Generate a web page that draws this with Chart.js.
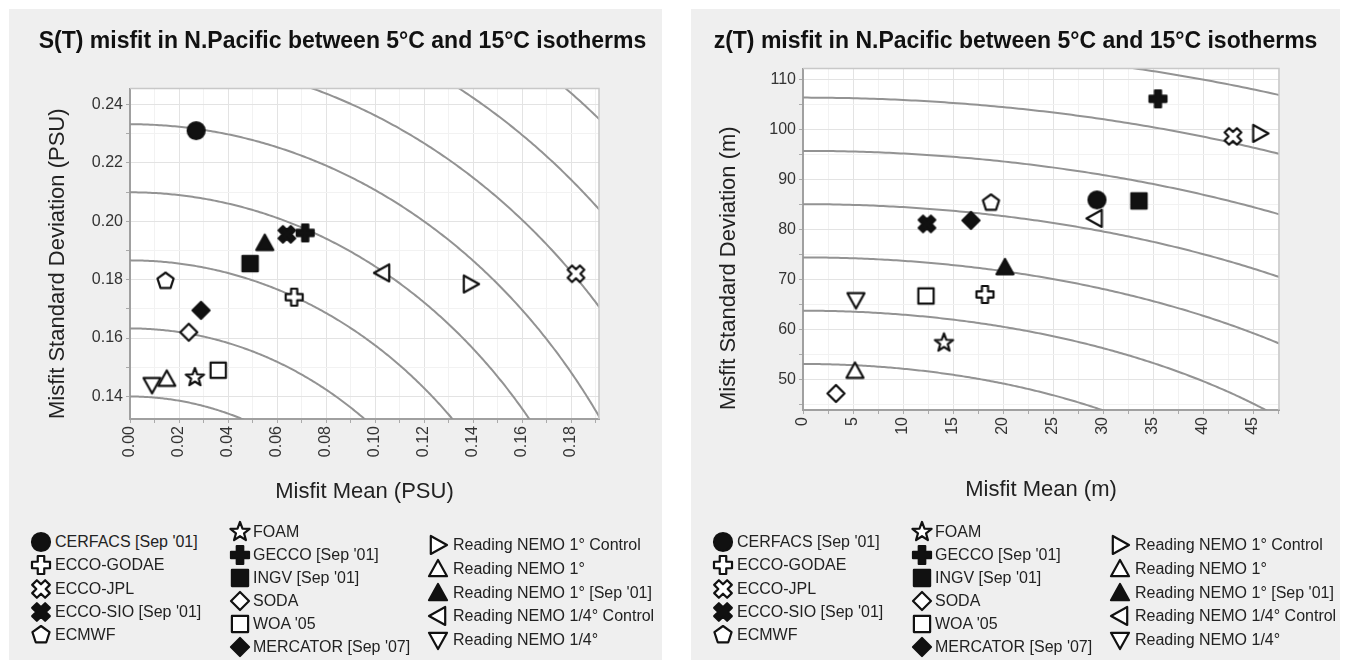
<!DOCTYPE html>
<html>
<head>
<meta charset="utf-8">
<title>Misfit in N.Pacific between 5°C and 15°C isotherms</title>
<script src="https://cdn.jsdelivr.net/npm/chart.js@4"></script>
<style>
  body { margin: 0; background: #fff; font-family: 'Liberation Sans', Arial, sans-serif; }
  .panel { position: absolute; top: 9px; height: 651px; background: #efefef; }
  #panelS { left: 9px; width: 653px; }
  #panelZ { left: 691px; width: 649px; }
  .panel > canvas { position: absolute; left: 0; top: 0; }
  .icon { position: absolute; }
  .label { position: absolute; height: 20px; line-height: 20px; font-size: 16px; color: #222; white-space: nowrap; }
</style>
</head>
<body>
<div class="panel" id="panelS"><canvas id="chartS" width="653" height="520"></canvas></div>
<div class="panel" id="panelZ"><canvas id="chartZ" width="649" height="520"></canvas></div>
<script>
// models, in legend order (3 columns: 5 / 6 / 5)
const models = ["CERFACS [Sep '01]", 'ECCO-GODAE', 'ECCO-JPL', "ECCO-SIO [Sep '01]", 'ECMWF',
  'FOAM', "GECCO [Sep '01]", "INGV [Sep '01]", 'SODA', "WOA '05", "MERCATOR [Sep '07]",
  'Reading NEMO 1° Control', 'Reading NEMO 1°', "Reading NEMO 1° [Sep '01]", 'Reading NEMO 1/4° Control', 'Reading NEMO 1/4°']

// S(T) misfit (PSU)
const stMean = [0.027, 0.067, 0.182, 0.064, 0.0145, 0.0265, 0.0715, 0.049, 0.024, 0.036, 0.029, 0.139, 0.015, 0.055, 0.103, 0.009]
const stStd = [0.231, 0.174, 0.182, 0.1955, 0.1795, 0.1465, 0.196, 0.1855, 0.162, 0.149, 0.1695, 0.1785, 0.146, 0.1925, 0.1823, 0.144]

// z(T) misfit (m)
const ztMean = [29.4, 18.2, 43.0, 12.4, 18.8, 14.1, 35.5, 33.6, 3.3, 12.3, 16.8, 45.7, 5.2, 20.2, 29.2, 5.3]
const ztStd = [86.0, 67.1, 98.7, 81.2, 85.4, 57.4, 106.2, 85.8, 47.3, 66.8, 81.9, 99.3, 51.8, 72.5, 82.3, 66.0]

// radii of the constant total-misfit circles sqrt(mean^2 + std^2)
const stRings = [0.140, 0.1633, 0.1866, 0.2099, 0.2332, 0.2565, 0.2798, 0.3031]
const ztRings = [53.2, 63.85, 74.5, 85.15, 95.8, 106.45, 117.1]

// marker style per model
const markerShapes = ['circle', 'plus', 'xcross', 'xcross', 'pentagon', 'star', 'plus', 'square', 'diamond', 'square', 'diamond',
  'tri-right', 'tri-up', 'tri-up', 'tri-left', 'tri-down']
const markerFilled = [true, false, false, true, false, false, true, true, false, false, true, false, false, true, false, false]

Chart.defaults.font.family = "'Liberation Sans', Arial, sans-serif"

function shapePoints(shape) {
  const a = 0.36
  const plus = [[-a, -1], [a, -1], [a, -a], [1, -a], [1, a], [a, a], [a, 1], [-a, 1], [-a, a], [-1, a], [-1, -a], [-a, -a]]
  const star = (n, r0, r1) => {
    const pts = []
    for (let k = 0; k < n * 2; k++) {
      const r = k % 2 ? r1 : r0
      const ang = -Math.PI / 2 + k * Math.PI / n
      pts.push([r * Math.cos(ang), r * Math.sin(ang)])
    }
    return pts
  }
  switch (shape) {
    case 'plus': return plus
    case 'xcross': return plus.map(([x, y]) => [(x - y) * 0.72, (x + y) * 0.72])
    case 'square': return [[-0.9, -0.9], [0.9, -0.9], [0.9, 0.9], [-0.9, 0.9]]
    case 'diamond': return [[0, -1], [1, 0], [0, 1], [-1, 0]]
    case 'pentagon': return star(5, 1, 1).filter((p, i) => i % 2 === 0)
    case 'star': return star(5, 1.12, 0.47)
    case 'tri-up': return [[0, -1], [1, 0.8], [-1, 0.8]]
    case 'tri-down': return [[0, 1], [1, -0.8], [-1, -0.8]]
    case 'tri-left': return [[-1, 0], [0.8, -1], [0.8, 1]]
    case 'tri-right': return [[1, 0], [-0.8, -1], [-0.8, 1]]
  }
}

function makeMarker(shape, filled, half) {
  const c = document.createElement('canvas')
  const size = Math.ceil(half * 2 + 6)
  c.width = size
  c.height = size
  const ctx = c.getContext('2d')
  ctx.translate(size / 2, size / 2)
  ctx.beginPath()
  if (shape === 'circle') {
    ctx.arc(0, 0, half, 0, Math.PI * 2)
  } else {
    shapePoints(shape).forEach(([x, y], i) => i ? ctx.lineTo(x * half, y * half) : ctx.moveTo(x * half, y * half))
    ctx.closePath()
  }
  ctx.lineJoin = 'round'
  ctx.lineWidth = 2.2
  ctx.strokeStyle = '#111'
  ctx.fillStyle = filled ? '#111' : '#fff'
  ctx.fill()
  ctx.stroke()
  return c
}

const plotMarkers = models.map((m, i) => makeMarker(markerShapes[i], markerFilled[i], 8.5))

function ringPoints(r) {
  const pts = []
  for (let i = 0; i <= 400; i++) {
    const a = (Math.PI / 2) * i / 400
    pts.push({ x: r * Math.sin(a), y: r * Math.cos(a) })
  }
  return pts
}

// white plot area and light top/right border
const plotFrame = {
  id: 'plotFrame',
  beforeDraw(chart) {
    const { ctx, chartArea: a } = chart
    ctx.save()
    ctx.fillStyle = '#fff'
    ctx.fillRect(a.left, a.top, a.right - a.left, a.bottom - a.top)
    ctx.restore()
  },
  afterDraw(chart) {
    const { ctx, chartArea: a } = chart
    ctx.save()
    ctx.strokeStyle = '#c8c8c8'
    ctx.lineWidth = 1.5
    ctx.beginPath()
    ctx.moveTo(a.left, a.top)
    ctx.lineTo(a.right, a.top)
    ctx.lineTo(a.right, a.bottom)
    ctx.stroke()
    ctx.restore()
  }
}

function buildChart(canvasId, cfg) {
  const datasets = models.map((m, i) => ({
    label: m,
    data: [{ x: cfg.mean[i], y: cfg.std[i] }],
    pointStyle: plotMarkers[i],
    pointRadius: 8,
    order: 0
  }))
  cfg.rings.forEach(r => datasets.push({
    label: 'ring',
    data: ringPoints(r),
    showLine: true,
    borderColor: '#939393',
    borderWidth: 2,
    pointRadius: 0,
    order: 1
  }))

  const tickFont = { size: 16 }
  return new Chart(document.getElementById(canvasId), {
    type: 'scatter',
    data: { datasets },
    options: {
      responsive: false,
      animation: false,
      events: [],
      layout: { padding: { left: cfg.padLeft, right: 0, top: 0, bottom: 0 } },
      plugins: {
        legend: { display: false },
        tooltip: { enabled: false },
        title: {
          display: true,
          text: cfg.title,
          color: '#111',
          font: { size: 23, weight: 'bold' },
          padding: { top: 19, bottom: cfg.titleGap }
        }
      },
      scales: {
        x: {
          type: 'linear',
          min: cfg.xMin,
          max: cfg.xMax,
          border: { color: '#a0a0a0', width: 2 },
          grid: {
            color: c => cfg.xMajor(c.tick.value) ? '#e3e3e3' : '#f2f2f2',
            tickColor: '#aaa',
            tickLength: 4
          },
          ticks: {
            stepSize: cfg.xStep,
            includeBounds: false,
            autoSkip: false,
            minRotation: 90,
            maxRotation: 90,
            padding: 3,
            color: '#333',
            font: tickFont,
            callback: v => cfg.xMajor(v) ? cfg.xFmt(v) : ''
          },
          title: { display: true, text: cfg.xTitle, color: '#222', font: { size: 22 }, padding: { top: 0, bottom: cfg.xTitlePad } },
          afterFit: s => { s.height = cfg.xHeight }
        },
        y: {
          type: 'linear',
          min: cfg.yMin,
          max: cfg.yMax,
          border: { color: '#a0a0a0', width: 2 },
          grid: {
            color: c => cfg.yMajor(c.tick.value) ? '#e3e3e3' : '#f2f2f2',
            tickColor: '#aaa',
            tickLength: 4
          },
          ticks: {
            stepSize: cfg.yStep,
            includeBounds: false,
            autoSkip: false,
            padding: 3,
            color: '#333',
            font: tickFont,
            callback: v => cfg.yMajor(v) ? cfg.yFmt(v) : ''
          },
          title: { display: true, text: cfg.yTitle, align: 'start', color: '#222', font: { size: 22 }, padding: { top: cfg.yTitlePad, bottom: 0 } },
          afterFit: s => { s.width = cfg.yWidth }
        },
        // empty right-hand box: keeps the grey margin right of the plot without shifting the title
        margin: {
          type: 'linear',
          position: 'right',
          grid: { display: false },
          border: { display: false },
          ticks: { display: false },
          afterFit: s => { s.width = cfg.marginRight }
        }
      }
    },
    plugins: [plotFrame]
  })
}

function buildLegend(panelId) {
  const panel = document.getElementById(panelId)
  const cols = [[0, 5], [5, 11], [11, 16]]
  const iconX = [32, 231, 429]
  const textX = [46, 244, 444]
  const rowTop = [533, 523, 536]
  const rowStep = [23.25, 23, 23.8]
  cols.forEach(([from, to], c) => {
    for (let i = from; i < to; i++) {
      const cy = rowTop[c] + (i - from) * rowStep[c]
      const icon = makeMarker(markerShapes[i], markerFilled[i], 9)
      icon.className = 'icon'
      icon.style.left = (iconX[c] - icon.width / 2) + 'px'
      icon.style.top = (cy - icon.height / 2) + 'px'
      panel.appendChild(icon)
      const lab = document.createElement('div')
      lab.className = 'label'
      lab.textContent = models[i]
      lab.style.left = textX[c] + 'px'
      lab.style.top = (cy - 10) + 'px'
      panel.appendChild(lab)
    }
  })
}

const isEven100 = v => Math.round(v * 100) % 2 === 0

buildChart('chartS', {
  title: 'S(T) misfit in N.Pacific between 5°C and 15°C isotherms',
  mean: stMean, std: stStd, rings: stRings,
  xMin: 0, xMax: 0.1914, xStep: 0.01, xMajor: isEven100, xFmt: v => v.toFixed(2),
  yMin: 0.1323, yMax: 0.2454, yStep: 0.01, yMajor: isEven100, yFmt: v => v.toFixed(2),
  xTitle: 'Misfit Mean (PSU)', yTitle: 'Misfit Standard Deviation (PSU)',
  padLeft: 14, marginRight: 63, titleGap: 33, xHeight: 110, xTitlePad: 24, yWidth: 107, yTitlePad: 22
})

buildChart('chartZ', {
  title: 'z(T) misfit in N.Pacific between 5°C and 15°C isotherms',
  mean: ztMean, std: ztStd, rings: ztRings,
  xMin: 0, xMax: 47.6, xStep: 2.5, xMajor: v => v % 5 === 0, xFmt: v => String(v),
  yMin: 44, yMax: 112.25, yStep: 5, yMajor: v => v % 10 === 0, yFmt: v => String(v),
  xTitle: 'Misfit Mean (m)', yTitle: 'Misfit Standard Deviation (m)',
  padLeft: 0, marginRight: 61, titleGap: 13, xHeight: 119, xTitlePad: 26, yWidth: 112, yTitlePad: 25
})

buildLegend('panelS')
buildLegend('panelZ')
</script>
</body>
</html>
